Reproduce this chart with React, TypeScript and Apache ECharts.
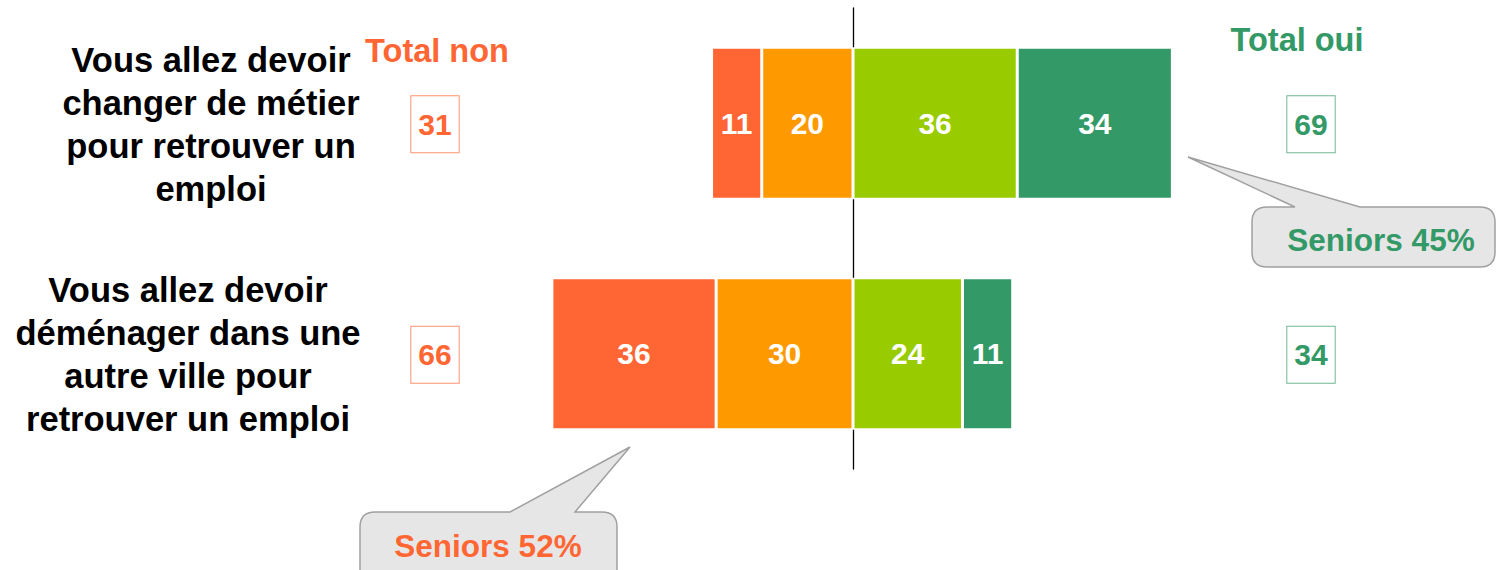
import React, { useEffect, useRef } from 'react';
import * as echarts from 'echarts';

// ---- data ----
const categories = [
  'Vous allez devoir\nchanger de métier\npour retrouver un\nemploi',
  'Vous allez devoir\ndéménager dans une\nautre ville pour\nretrouver un emploi',
];
const seriesNames = ['Non, plutôt pas', 'Non, pas du tout', 'Oui, plutôt', 'Oui, tout à fait'];
const plutotNonValues = [20, 30];
const pasDuToutValues = [11, 36];
const plutotOuiValues = [36, 24];
const toutAFaitValues = [34, 11];
const totalNon = [31, 66];
const totalOui = [69, 34];
const headerNon = 'Total non';
const headerOui = 'Total oui';
const seniorsOui = 'Seniors 45%';
const seniorsNon = 'Seniors 52%';

// ---- callout shapes ----
const bubbleOuiPath =
  'M1267 207 L1295 207 L1188 157 L1360 207 L1480 207 Q1495 207 1495 222 L1495 252 Q1495 267 1480 267 L1267 267 Q1252 267 1252 252 L1252 222 Q1252 207 1267 207 Z';
const bubbleNonPath =
  'M375 512 L510 512 L630 447 L575 512 L602 512 Q617 512 617 527 L617 600 L360 600 L360 527 Q360 512 375 512 Z';
echarts.graphic.registerShape('bubbleOui', echarts.graphic.extendPath(bubbleOuiPath, {}) as any);
echarts.graphic.registerShape('bubbleNon', echarts.graphic.extendPath(bubbleNonPath, {}) as any);

const RED = '#FF6633';
const ORANGE = '#FF9900';
const LGREEN = '#99CC00';
const DGREEN = '#339966';
const FONT = '"Liberation Sans", Arial, sans-serif';

export default function App() {
  const ref = useRef<HTMLDivElement>(null);

  useEffect(() => {
    document.body.style.margin = '0';
    const chart = echarts.init(ref.current!, null, { renderer: 'svg' });

    const label = {
      show: true,
      position: 'inside',
      color: '#fff',
      fontWeight: 'bold',
      fontSize: 30,
      fontFamily: FONT,
      formatter: (p: any) => String(Math.abs(p.value)),
    };
    const mk = (name: string, data: number[], color: string, sign: number) => ({
      type: 'bar',
      name,
      stack: 'total',
      data: data.map((v) => sign * v),
      barWidth: 152,
      itemStyle: { color, borderColor: '#fff', borderWidth: 1.5 },
      label,
    });

    chart.setOption({
      animation: false,
      grid: { left: 488, top: 8, width: 730, height: 461, containLabel: false },
      xAxis: {
        type: 'value',
        min: -80,
        max: 80,
        axisLine: { show: false },
        axisTick: { show: false },
        axisLabel: { show: false },
        splitLine: { show: false },
      },
      yAxis: {
        type: 'category',
        data: categories,
        inverse: true,
        axisLine: { show: true, onZero: true, lineStyle: { color: '#000', width: 1.3 } },
        axisTick: { show: false },
        axisLabel: { show: false },
      },
      series: [
        mk(seriesNames[0], plutotNonValues, ORANGE, -1),
        mk(seriesNames[1], pasDuToutValues, RED, -1),
        mk(seriesNames[2], plutotOuiValues, LGREEN, 1),
        mk(seriesNames[3], toutAFaitValues, DGREEN, 1),
      ],
    });

    const catX = [211, 188];
    const graphics: any[] = [];
    categories.forEach((c, i) => {
      const y = chart.convertToPixel({ yAxisIndex: 0 }, i) as number;
      graphics.push({
        type: 'text',
        x: catX[i],
        y: y + 1,
        style: {
          text: c,
          fill: '#000',
          fontSize: 34.5,
          fontWeight: 'bold',
          fontFamily: FONT,
          lineHeight: 43,
          align: 'center',
          verticalAlign: 'middle',
        },
      });
      const box = (val: number, x: number, color: string, border: string) => ({
        type: 'text',
        x,
        y: y + 1,
        style: {
          text: String(val),
          fill: color,
          fontSize: 30,
          fontWeight: 'bold',
          fontFamily: FONT,
          lineHeight: 36,
          align: 'center',
          verticalAlign: 'middle',
          backgroundColor: '#fff',
          borderColor: border,
          borderWidth: 1,
          padding: [10, 7],
        },
      });
      graphics.push(box(totalNon[i], 435, RED, '#FF9470'));
      graphics.push(box(totalOui[i], 1311, DGREEN, '#6FB893'));
    });

    graphics.push({
      type: 'text',
      x: 437,
      y: 51,
      style: { text: headerNon, fill: RED, fontSize: 32.5, fontWeight: 'bold', fontFamily: FONT, align: 'center', verticalAlign: 'middle' },
    });
    graphics.push({
      type: 'text',
      x: 1297,
      y: 40,
      style: { text: headerOui, fill: DGREEN, fontSize: 32.5, fontWeight: 'bold', fontFamily: FONT, align: 'center', verticalAlign: 'middle' },
    });
    graphics.push({
      type: 'bubbleOui',
      shape: {},
      style: { fill: '#E6E6E6', stroke: '#A0A0A0', lineWidth: 1.5 },
    });
    graphics.push({
      type: 'text',
      x: 1381,
      y: 240,
      style: { text: seniorsOui, fill: DGREEN, fontSize: 31.5, fontWeight: 'bold', fontFamily: FONT, align: 'center', verticalAlign: 'middle' },
    });
    graphics.push({
      type: 'bubbleNon',
      shape: {},
      style: { fill: '#E6E6E6', stroke: '#A0A0A0', lineWidth: 1.5 },
    });
    graphics.push({
      type: 'text',
      x: 488,
      y: 546,
      style: { text: seniorsNon, fill: RED, fontSize: 31.5, fontWeight: 'bold', fontFamily: FONT, align: 'center', verticalAlign: 'middle' },
    });

    chart.setOption({ graphic: graphics });

    return () => chart.dispose();
  }, []);

  return <div ref={ref} style={{ width: 1497, height: 570 }} />;
}
